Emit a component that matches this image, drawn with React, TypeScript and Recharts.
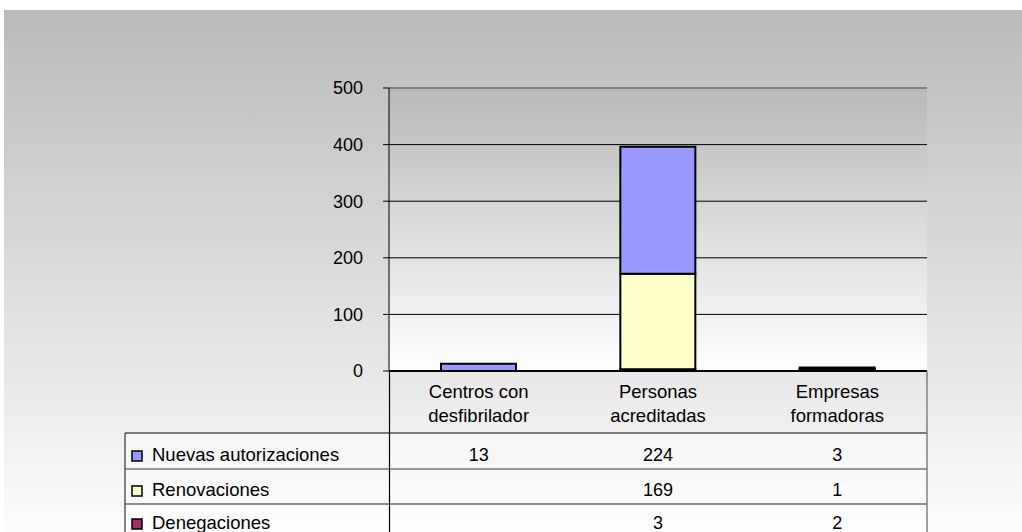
import React from 'react';
import { BarChart, Bar, XAxis, YAxis, CartesianGrid, ReferenceLine } from 'recharts';

const categories = ['Centros con desfibrilador', 'Personas acreditadas', 'Empresas formadoras'];
const categoryLines = [
  ['Centros con', 'desfibrilador'],
  ['Personas', 'acreditadas'],
  ['Empresas', 'formadoras'],
];
const nuevas: (number | null)[] = [13, 224, 3];
const renovaciones: (number | null)[] = [null, 169, 1];
const denegaciones: (number | null)[] = [null, 3, 2];
const yTicks = [0, 100, 200, 300, 400, 500];

const seriesNames = ['Nuevas autorizaciones', 'Renovaciones', 'Denegaciones'];
const seriesColors = ['#9999ff', '#ffffcc', '#993366'];
const seriesValues = [nuevas, renovaciones, denegaciones];

const data = categories.map((c, i) => ({
  name: c,
  nuevas: nuevas[i],
  renovaciones: renovaciones[i],
  denegaciones: denegaciones[i],
}));

const FONT = '"Liberation Sans", Arial, Helvetica, sans-serif';
const FS = 18;
const FS_TABLE = 18.5;

const CatTick = (props: any) => {
  const { x, y, index } = props;
  const lines = categoryLines[index] || [];
  return (
    <g>
      {lines.map((l, k) => (
        <text key={k} x={x} y={y + 27 + k * 24} textAnchor="middle" fontSize={FS_TABLE} fontFamily={FONT} fill="#000">
          {l}
        </text>
      ))}
      {seriesValues.map((vals, s) => (
        <text key={'v' + s} x={x} y={y + 90 + s * 35 - (s === 2 ? 2 : 0)} textAnchor="middle" fontSize={FS} fontFamily={FONT} fill="#000">
          {vals[index] == null ? '' : String(vals[index])}
        </text>
      ))}
    </g>
  );
};

export default function App() {
  return (
    <div style={{ position: 'absolute', left: 0, top: 0, width: 1022, height: 532, overflow: 'hidden', fontFamily: FONT }}>
      <div
        style={{
          position: 'absolute',
          left: 4,
          top: 10,
          width: 1018,
          height: 522,
          background: 'linear-gradient(to bottom, #bababa 0%, #fcfcfc 100%)',
        }}
      />
      <div style={{ position: 'absolute', left: 125, top: 433, width: 802, height: 99, background: 'rgba(255,255,255,0.35)' }} />
      <div style={{ position: 'absolute', left: 0, top: 0 }}>
        <BarChart
          width={1022}
          height={532}
          data={data}
          margin={{ top: 88, right: 95, bottom: 0, left: 329 }}
          barCategoryGap="29%"
        >
          <defs>
            <linearGradient id="plotGrad" x1="0" y1="0" x2="0" y2="1">
              <stop offset="0%" stopColor="#b8b8b8" />
              <stop offset="100%" stopColor="#ffffff" />
            </linearGradient>
          </defs>
          <CartesianGrid fill="url(#plotGrad)" vertical={false} stroke="#000" strokeWidth={1} />
          <XAxis
            dataKey="name"
            height={161}
            tickLine={false}
            tickSize={0}
            tickMargin={0}
            axisLine={{ stroke: '#000', strokeWidth: 2 }}
            tick={<CatTick />}
            interval={0}
          />
          <YAxis
            width={60}
            domain={[0, 500]}
            ticks={yTicks}
            interval={0}
            tickSize={6}
            tickMargin={20}
            axisLine={{ stroke: '#000', strokeWidth: 1 }}
            tickLine={{ stroke: '#000' }}
            tick={{ fontSize: FS, fontFamily: FONT, fill: '#000' }}
          />
          <YAxis
            yAxisId="r"
            orientation="right"
            width={0}
            domain={[0, 500]}
            tick={false}
            tickLine={false}
            axisLine={{ stroke: '#808080', strokeWidth: 1.5 }}
          />
          <ReferenceLine y={500} stroke="#808080" strokeWidth={2} />
          <Bar dataKey="denegaciones" stackId="a" fill={seriesColors[2]} stroke="#000" strokeWidth={2} isAnimationActive={false} />
          <Bar dataKey="renovaciones" stackId="a" fill={seriesColors[1]} stroke="#000" strokeWidth={2} isAnimationActive={false} />
          <Bar dataKey="nuevas" stackId="a" fill={seriesColors[0]} stroke="#000" strokeWidth={2} isAnimationActive={false} />
        </BarChart>
      </div>
      <svg width={1022} height={532} style={{ position: 'absolute', left: 0, top: 0, pointerEvents: 'none' }}>
        <line x1={125} y1={433} x2={927} y2={433} stroke="#555" strokeWidth={1.5} />
        <line x1={125} y1={469} x2={927} y2={469} stroke="#333" strokeWidth={1.2} />
        <line x1={125} y1={504} x2={927} y2={504} stroke="#222" strokeWidth={1.2} />
        <line x1={125} y1={433} x2={125} y2={532} stroke="#333" strokeWidth={1.2} />
        <line x1={389.5} y1={371} x2={389.5} y2={532} stroke="#000" strokeWidth={1.2} />
        <line x1={927} y1={371} x2={927} y2={532} stroke="#808080" strokeWidth={1.5} />
        {seriesNames.map((n, s) => (
          <g key={n}>
            <rect x={132} y={451 + s * 35 - (s === 2 ? 2 : 0)} width={10} height={10} fill={seriesColors[s]} stroke="#000" strokeWidth={1.5} />
            <text x={152} y={461 + s * 35 - (s === 2 ? 2 : 0)} fontSize={FS_TABLE} fontFamily={FONT} fill="#000">
              {n}
            </text>
          </g>
        ))}
      </svg>
    </div>
  );
}
